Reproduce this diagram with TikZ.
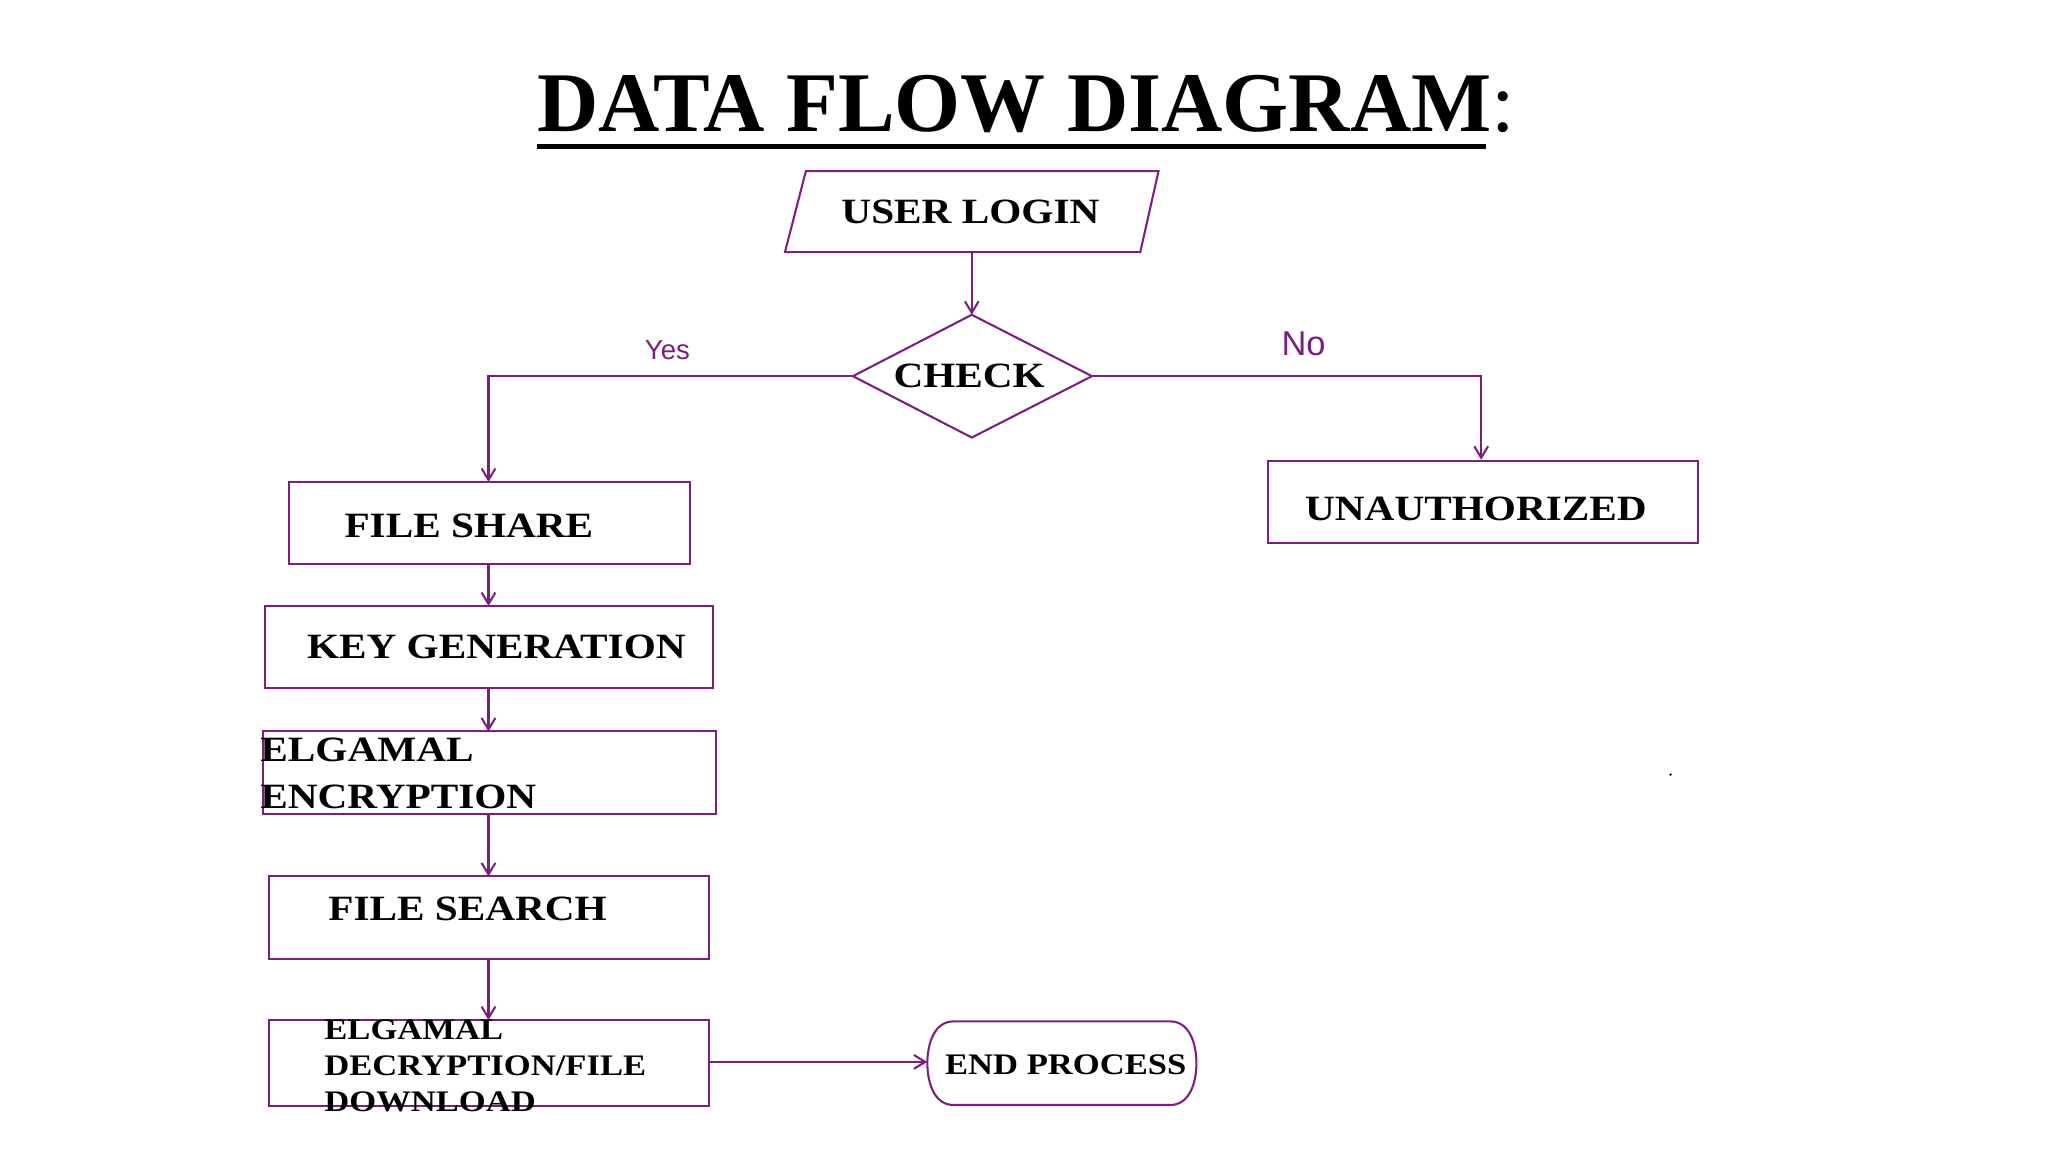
\documentclass[tikz,border=0pt]{standalone}
\usepackage{fontspec}
\setmainfont{Liberation Serif}
\newfontfamily\labfont{Liberation Sans}
\newfontfamily\boxfont[FakeStretch=1.16]{Liberation Serif}
\usetikzlibrary{arrows.meta}
\definecolor{pl}{HTML}{7A1F80}
\tikzset{
 ln/.style={draw=pl,line width=0.9pt},
 arr/.style={ln,-{Straight Barb[length=5pt,width=6pt]}},
 box/.style={ln},
 txt/.style={font=\boxfont\fontsize{15.5}{17}\selectfont\bfseries,text=black,inner sep=0pt},
 tl/.style={txt,anchor=west,align=left},
 lbl/.style={text=pl,inner sep=0pt},
}
\begin{document}
\begin{tikzpicture}[x=0.02cm,y=-0.02cm]
\useasboundingbox (0,0) rectangle (1568,882);
% title
\draw[line width=2.2pt] (411,112) -- (1138,112);
\node[inner sep=0pt,font=\fontsize{37}{40}\selectfont\bfseries,anchor=base west] (title) at (411,101) {DATA FLOW DIAGRAM\mdseries:};
% user login
\draw[box] (617,131) -- (887,131) -- (873,193) -- (601,193) -- cycle;
\node[txt] (login) at (743,162) {USER LOGIN};
\coordinate (lb) at (744,193);
\coordinate (dt) at (744,241);
\draw[box] (653,288) -- (744,241) -- (836,288) -- (744,335) -- cycle;
\node[txt] (check) at (742,288) {CHECK};
\coordinate (dl) at (653,288);
\coordinate (dr) at (836,288);
\draw[arr] (lb) -- (dt);
% boxes
\draw[box] (221,369) rectangle (528,432);
\node[txt] (fs) at (359,403) {FILE SHARE};
\draw[box] (971,353) rectangle (1300,416);
\node[txt] (un) at (1130,390) {UNAUTHORIZED};
\draw[box] (203,464) rectangle (546,527);
\node[txt] (kg) at (380,495) {KEY GENERATION};
\draw[box] (201,560) rectangle (548,623);
\node[tl,font=\boxfont\fontsize{15.5}{20.5}\selectfont\bfseries] (enc) at (199,592) {ELGAMAL\\ENCRYPTION};
\draw[box] (206,781) rectangle (543,847);
\node[tl,font=\boxfont\fontsize{13}{15.5}\selectfont\bfseries] (dec) at (248,816) {ELGAMAL\\DECRYPTION/FILE\\DOWNLOAD};
\draw[box] (206,671) rectangle (543,734);
\node[txt] (fsr) at (358,696) {FILE SEARCH};
\draw[box] (730,782) -- (896,782) to[out=0,in=90] (916,814) to[out=-90,in=0] (896,846) -- (730,846) to[out=180,in=-90] (710,814) to[out=90,in=180] (730,782) -- cycle;
\node[txt,font=\boxfont\fontsize{13}{15}\selectfont\bfseries] (end) at (816,815) {END PROCESS};
% connectors
\draw[arr] (dl) -- (374,288) -- (374,369);
\draw[arr] (dr) -- (1134,288) -- (1134,352);
\node[lbl,font=\labfont\fontsize{12}{13}\selectfont] (yes) at (511,268) {Yes};
\node[lbl,font=\labfont\fontsize{15}{16}\selectfont] (no) at (998,263) {No};
\draw[arr] (374,432) -- (374,464);
\draw[arr] (374,527) -- (374,560);
\draw[arr] (374,623) -- (374,671);
\draw[arr] (374,734) -- (374,781);
\draw[arr] (543,813) -- (710,813);
\fill (1279,593) circle (1);
\end{tikzpicture}
\end{document}
